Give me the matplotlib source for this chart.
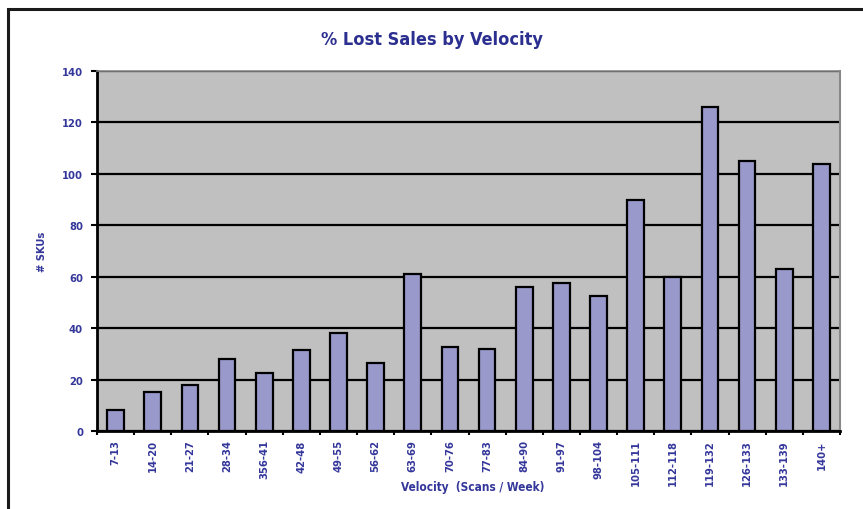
import matplotlib.pyplot as plt
from matplotlib.patches import Rectangle
import numpy as np

categories = ["7-13", "14-20", "21-27", "28-34", "356-41", "42-48", "49-55",
              "56-62", "63-69", "70-76", "77-83", "84-90", "91-97", "98-104",
              "105-111", "112-118", "119-132", "126-133", "133-139", "140+"]
skus = [8, 15, 18, 28, 22.5, 31.5, 38, 26.5, 61, 32.5, 32, 56, 57.5, 52.5,
        90, 60, 126, 105, 63, 104]
y_ticks = [0, 20, 40, 60, 80, 100, 120, 140]

TEXT = "#34379a"
FONT = dict(family="DejaVu Sans", fontstretch="condensed", fontweight="bold")


def main() -> None:
    fig = plt.figure(figsize=(8.63, 5.10), dpi=100)
    fig.patch.set_facecolor("white")

    # outer frame (left and top edges visible, rest runs off the image)
    fig.patches.append(Rectangle((8 / 863, -0.05), 1.2, 1 - 10 / 510 + 0.05,
                                 transform=fig.transFigure, fill=False,
                                 edgecolor="#1a1a1a", linewidth=2.2))

    ax = fig.add_axes([97 / 863, 78 / 510, 743 / 863, 360 / 510])
    ax.set_facecolor("#c0c0c0")

    x = np.arange(len(categories))
    ax.bar(x, skus, width=0.45, color="#9999cc", edgecolor="black",
           linewidth=1.6, zorder=3)

    ax.set_xlim(-0.5, len(categories) - 0.5)
    ax.set_ylim(0, 140)
    ax.set_yticks(y_ticks)
    ax.set_yticklabels([str(v) for v in y_ticks], color=TEXT, fontsize=8,
                       **FONT)
    ax.yaxis.grid(True, color="black", linewidth=1.6, zorder=1)
    ax.set_axisbelow(True)

    ax.set_xticks(x)
    ax.set_xticklabels(categories, rotation=90, color=TEXT, fontsize=8,
                       **FONT)
    ax.tick_params(axis="x", length=0, pad=6)
    ax.set_xticks(np.arange(-0.5, len(categories)), minor=True)
    ax.tick_params(axis="x", which="minor", length=3, width=1.5,
                   color="black")
    ax.tick_params(axis="y", length=4, width=1.5, color="black", pad=6)

    for side in ["left", "bottom"]:
        ax.spines[side].set_color("black")
        ax.spines[side].set_linewidth(2)
    ax.spines["top"].set_color("#888888")
    ax.spines["right"].set_color("#888888")
    ax.spines["top"].set_linewidth(1.2)
    ax.spines["right"].set_linewidth(1.5)

    ax.set_ylabel("# SKUs", color=TEXT, fontsize=8, **FONT)
    ax.yaxis.set_label_coords(-0.067, 0.5)
    fig.text(473 / 863, 1 - 488 / 510, "Velocity  (Scans / Week)",
             ha="center", va="center", color=TEXT, fontsize=8.5, **FONT)
    fig.text(0.5, 1 - 40 / 510, "% Lost Sales by Velocity", ha="center",
             va="center", color="#2b2f8f", fontsize=13, **FONT)

    fig.savefig("out.png", dpi=100)
    plt.close(fig)


if __name__ == "__main__":
    main()
